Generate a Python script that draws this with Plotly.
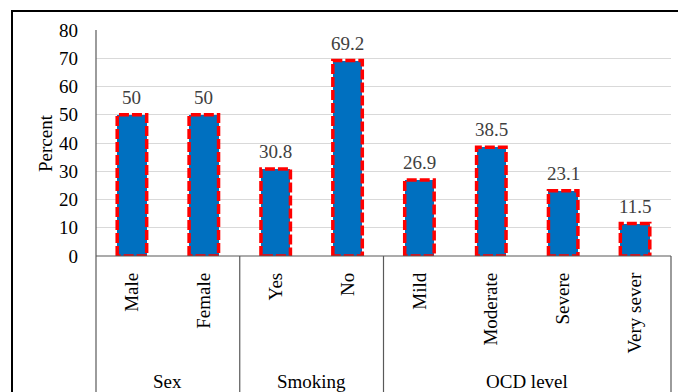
import plotly.graph_objects as go

# Survey breakdown (percent of respondents)
categories = ["Male", "Female", "Yes", "No", "Mild", "Moderate", "Severe", "Very sever"]
percent = [50, 50, 30.8, 69.2, 26.9, 38.5, 23.1, 11.5]
groups = ["Sex", "Smoking", "OCD level"]
group_sizes = [2, 2, 4]
y_ticks = list(range(0, 81, 10))

W, H = 678, 392
L, R, T, B = 96, 7, 30, 136
plot_w = W - L - R
plot_h = H - T - B

BAR_W = 0.41
SERIF = "Liberation Serif, Times New Roman, serif"
FRAME = "#595959"

x_pos = list(range(len(categories)))

fig = go.Figure()

fig.add_trace(go.Bar(
    x=x_pos, y=percent, width=BAR_W,
    marker=dict(color="#0070C0", line=dict(width=0)),
    hoverinfo="skip", showlegend=False,
))

# dashed red outline around each bar
ox, oy = [], []
for xi, v in zip(x_pos, percent):
    a, b = xi - BAR_W / 2, xi + BAR_W / 2
    ox += [a, a, b, b, a, None]
    oy += [0, v, v, 0, 0, None]
fig.add_trace(go.Scatter(
    x=ox, y=oy, mode="lines",
    line=dict(color="#FF0000", width=3.5, dash="10px,3px"),
    cliponaxis=False, hoverinfo="skip", showlegend=False,
))

# value labels
for xi, v in zip(x_pos, percent):
    fig.add_annotation(
        x=xi, y=v, text=f"{v:g}", showarrow=False,
        yanchor="bottom", yshift=5,
        font=dict(family=SERIF, size=19, color="#404040"),
    )

def px_x(p):
    return (p - L) / plot_w

def px_y(p):
    return (H - B - p) / plot_h

bottom = px_y(H + 10)

shapes = []
# outer frame
shapes.append(dict(type="rect", xref="paper", yref="paper",
                   x0=px_x(12), x1=px_x(W + 10), y0=bottom, y1=px_y(11),
                   line=dict(color="#000000", width=2)))
# value axis line, running down through the category band
shapes.append(dict(type="line", xref="paper", yref="paper",
                   x0=0, x1=0, y0=bottom, y1=1,
                   line=dict(color=FRAME, width=1.2)))
# category baseline
shapes.append(dict(type="line", xref="paper", yref="paper",
                   x0=0, x1=1, y0=0, y1=0,
                   line=dict(color=FRAME, width=1.2)))
# right edge of category band
shapes.append(dict(type="line", xref="paper", yref="paper",
                   x0=1, x1=1, y0=bottom, y1=0,
                   line=dict(color=FRAME, width=1.2)))

# group dividers and group labels
start = 0
for name, n in zip(groups, group_sizes):
    end = start + n
    center = (start + end - 1) / 2
    fig.add_annotation(
        x=center, xref="x", y=px_y(381.5), yref="paper",
        text=name, showarrow=False, yanchor="middle",
        font=dict(family=SERIF, size=19, color="#000000"),
    )
    if end < len(categories):
        shapes.append(dict(type="line", xref="x", yref="paper",
                           x0=end - 0.5, x1=end - 0.5, y0=bottom, y1=0,
                           line=dict(color=FRAME, width=1.2)))
    start = end

# value axis title
fig.add_annotation(
    x=px_x(45), xref="paper", y=0.5, yref="paper",
    text="Percent", textangle=-90, showarrow=False,
    xanchor="center", yanchor="middle",
    font=dict(family=SERIF, size=19, color="#000000"),
)

fig.update_layout(
    width=W, height=H,
    margin=dict(l=L, r=R, t=T, b=B, pad=0),
    paper_bgcolor="white", plot_bgcolor="white",
    shapes=shapes,
    bargap=0,
    xaxis=dict(
        range=[-0.5, len(categories) - 0.5],
        tickmode="array", tickvals=x_pos, ticktext=categories,
        tickangle=-90, ticks="", showline=False, showgrid=False,
        zeroline=False, ticklabelstandoff=12,
        tickfont=dict(family=SERIF, size=19, color="#000000"),
        fixedrange=True,
    ),
    yaxis=dict(
        range=[0, 80], tickmode="array", tickvals=y_ticks,
        showgrid=True, gridcolor="#D9D9D9", gridwidth=1,
        zeroline=False, showline=False, ticks="",
        ticklabelstandoff=17,
        tickfont=dict(family=SERIF, size=19, color="#000000"),
        fixedrange=True,
    ),
)

fig.write_html("out.html", config={"displayModeBar": False})
